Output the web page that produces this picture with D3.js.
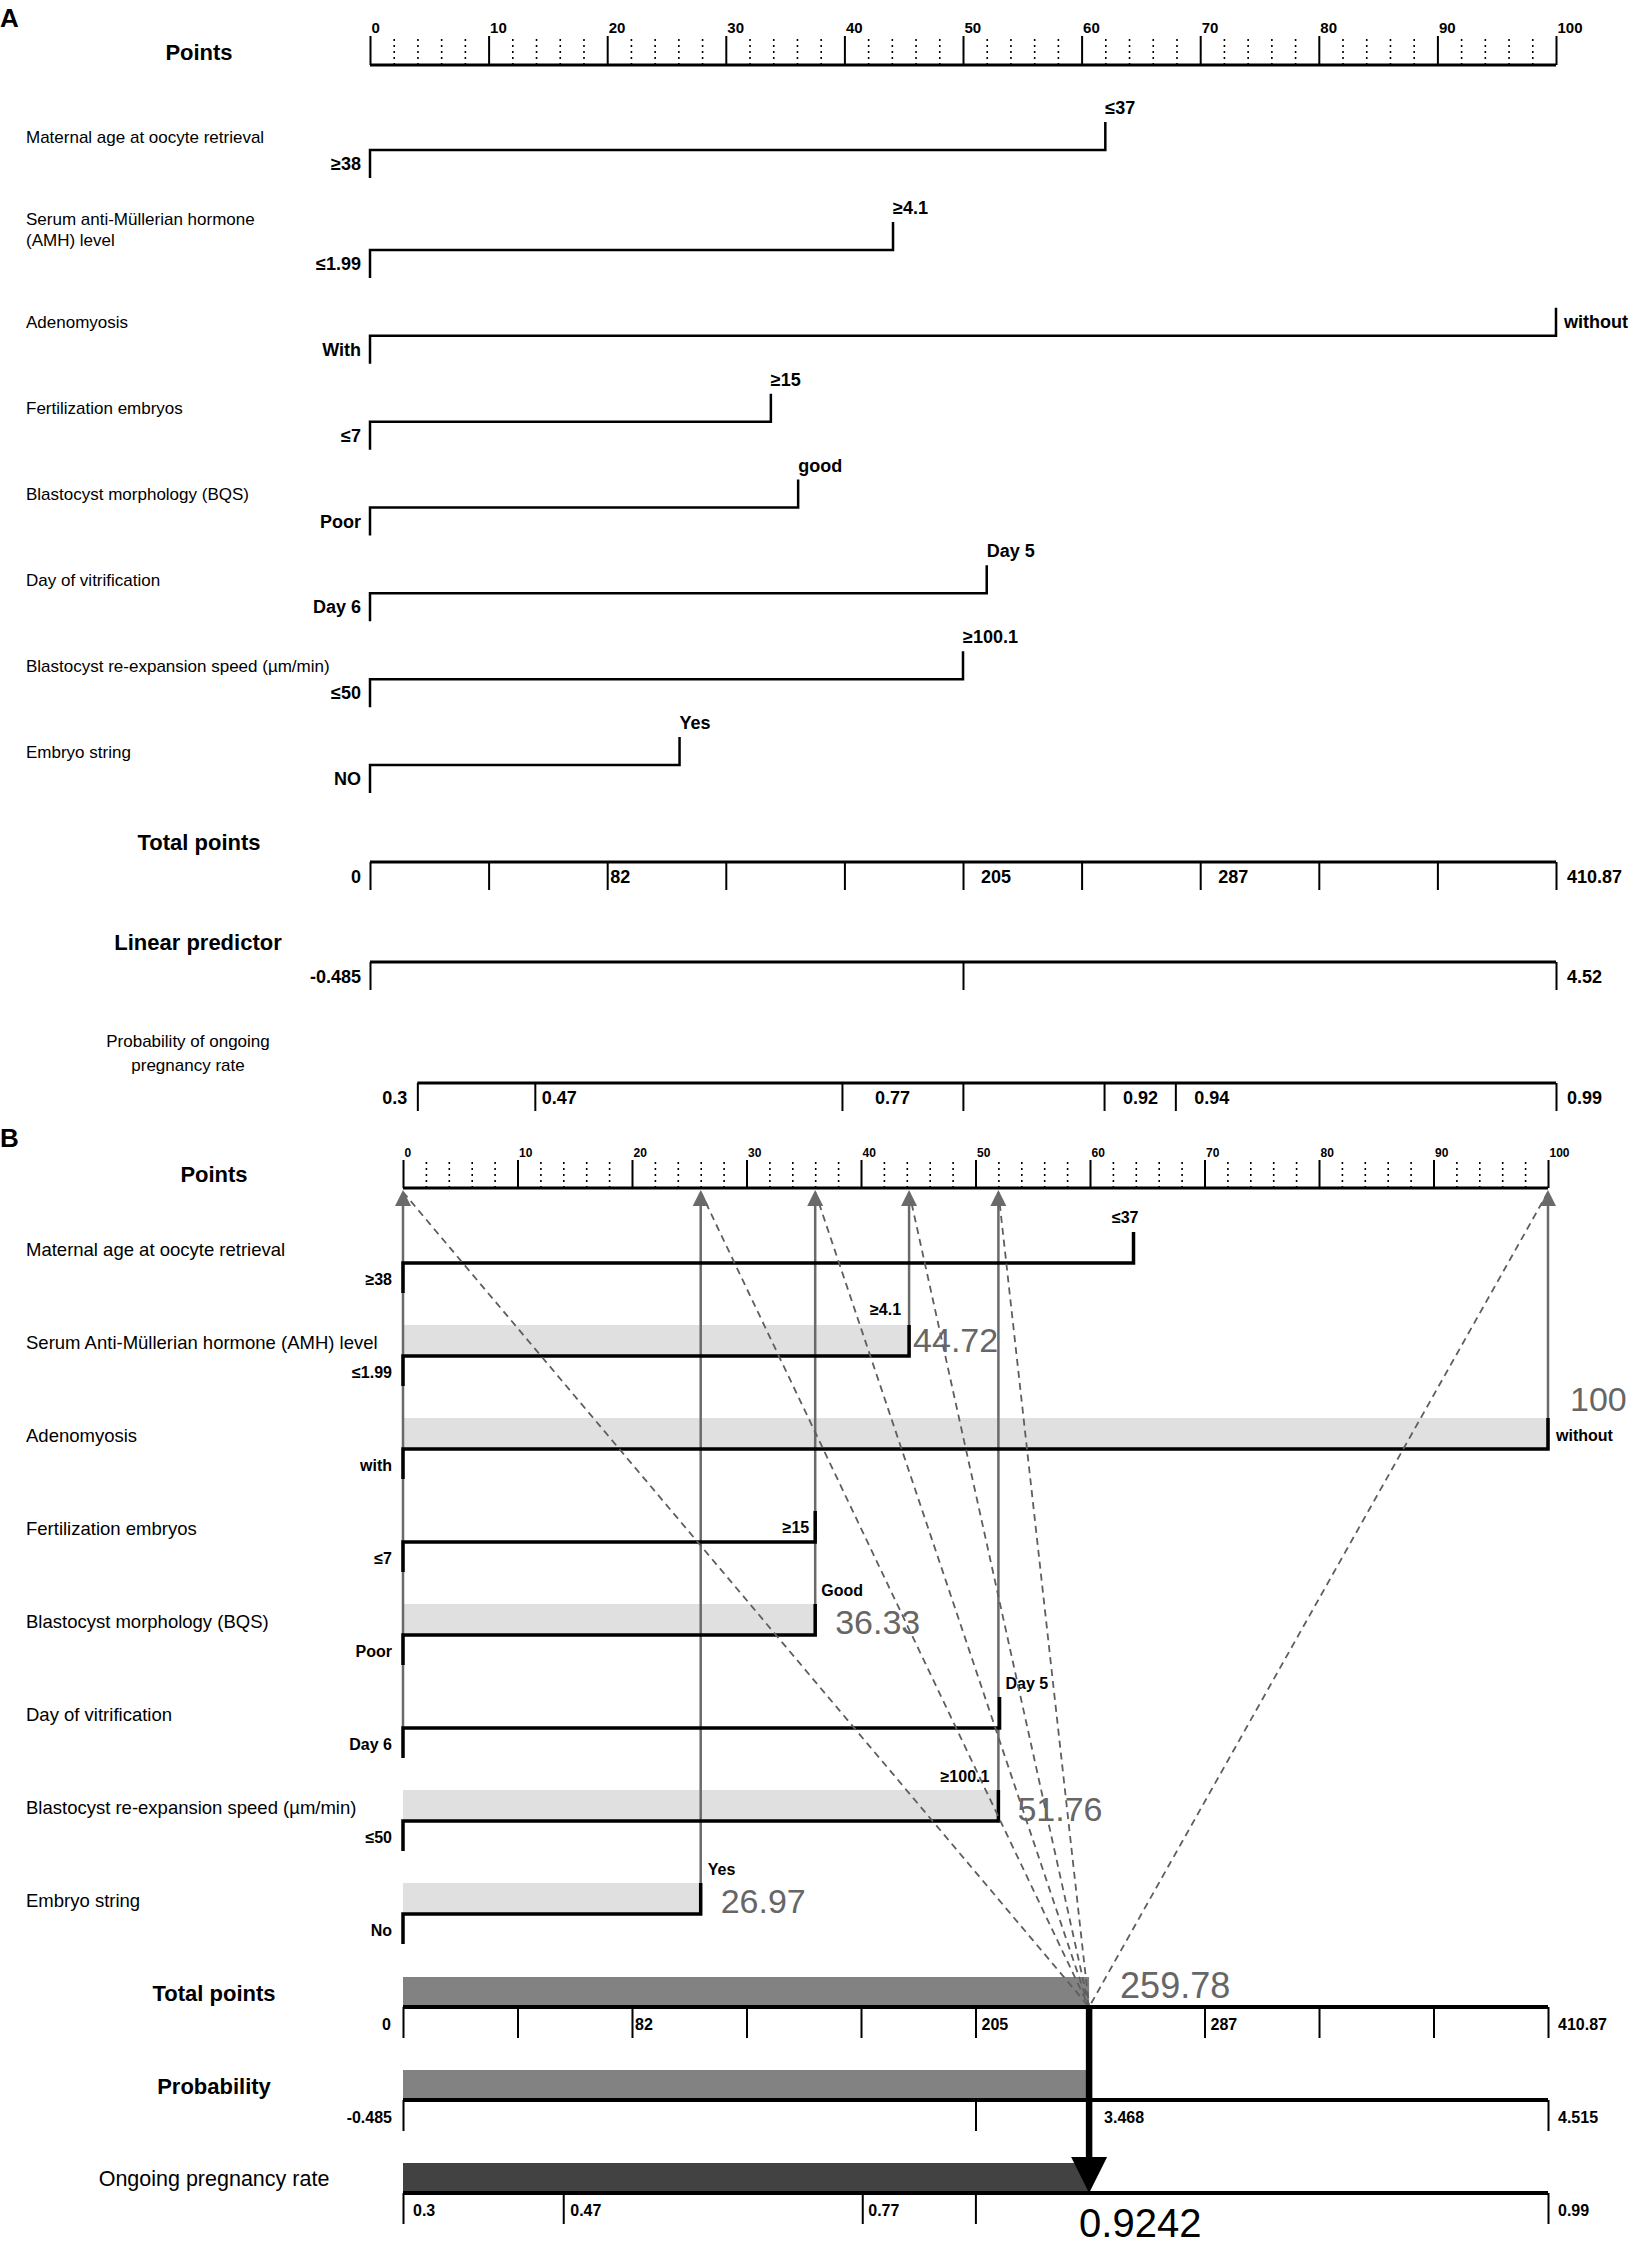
<!DOCTYPE html>
<html>
<head>
<meta charset="utf-8">
<script src="https://cdn.jsdelivr.net/npm/d3@7"></script>
<style>
  body { margin: 0; background: #fff; }
  svg { display: block; }
</style>
</head>
<body>
<div id="chart"></div>
<script>
/* global d3 */
const width = 1636;
const height = 2244;
const FONT = "'Liberation Sans', Arial, Helvetica, sans-serif";

// ---------------- data ----------------
const pointTicks = [0, 10, 20, 30, 40, 50, 60, 70, 80, 90, 100];

const predictorsA = [
  "Maternal age at oocyte retrieval",
  "Serum anti-Müllerian hormone\n(AMH) level",
  "Adenomyosis",
  "Fertilization embryos",
  "Blastocyst morphology (BQS)",
  "Day of vitrification",
  "Blastocyst re-expansion speed (µm/min)",
  "Embryo string"
];
const lowLevelsA = ["≥38", "≤1.99", "With", "≤7", "Poor", "Day 6", "≤50", "NO"];
const highLevelsA = ["≤37", "≥4.1", "without", "≥15", "good", "Day 5", "≥100.1", "Yes"];
const highPointsA = [62, 44.1, 100, 33.8, 36.1, 52, 50, 26.1];

const predictorsB = [
  "Maternal age at oocyte retrieval",
  "Serum Anti-Müllerian hormone (AMH) level",
  "Adenomyosis",
  "Fertilization embryos",
  "Blastocyst morphology (BQS)",
  "Day of vitrification",
  "Blastocyst re-expansion speed (µm/min)",
  "Embryo string"
];
const lowLevelsB = ["≥38", "≤1.99", "with", "≤7", "Poor", "Day 6", "≤50", "No"];
const highLevelsB = ["≤37", "≥4.1", "without", "≥15", "Good", "Day 5", "≥100.1", "Yes"];
const highPointsB = [63.8, 44.2, 100, 36, 36, 52.1, 52, 26];
// example patient: points scored on each predictor (0 = lowest level)
const scoredB = [0, 44.72, 100, 0, 36.33, 0, 51.76, 26.97];
const scoredLabelsB = ["", "44.72", "100", "", "36.33", "", "51.76", "26.97"];

const totalMax = 410.87;
const totalTicks = [0, 41.09, 82.17, 123.26, 164.35, 205.44, 246.52, 287.61, 328.7, 369.78, 410.87];
const totalTickLabels = ["0", "", "82", "", "", "205", "", "287", "", "", "410.87"];

const lpTicksA = [-0.485, 2.0175, 4.52];
const lpTickLabelsA = ["-0.485", "", "4.52"];
const lpTicksB = [-0.485, 2.015, 4.515];
const lpTickLabelsB = ["-0.485", "", "4.515"];

// probability ticks, located by their total-points equivalent
const probTicksA = [16.4, 57.1, 163.5, 205.4, 254.3, 279.0, 410.87];
const probTickLabelsA = ["0.3", "0.47", "0.77", "", "0.92", "0.94", "0.99"];
const probTicksB = [0, 57.5, 164.8, 205.4, 410.87];
const probTickLabelsB = ["0.3", "0.47", "0.77", "", "0.99"];

// example result in panel B
const resultTotal = "259.78";
const resultMarkAt = 246.2;   // where the marker sits on the total-points bar
const resultLp = "3.468";
const resultProb = "0.9242";

// ---------------- svg ----------------
const svg = d3.select("#chart").append("svg")
  .attr("width", width).attr("height", height)
  .attr("font-family", FONT);

function txt(g, x, y, s, size, opts = {}) {
  return g.append("text")
    .attr("x", x).attr("y", y)
    .attr("font-size", size)
    .attr("font-weight", opts.bold ? "bold" : "normal")
    .attr("text-anchor", opts.anchor || "start")
    .attr("dominant-baseline", opts.baseline || "central")
    .attr("fill", opts.fill || "#000")
    .text(s);
}

function drawPointsAxis(g, x, y, tickLen, fontSize) {
  const minors = d3.range(0, 101, 2).filter((v) => v % 10 !== 0);
  const minor = g.append("g").attr("transform", `translate(0,${y})`)
    .call(d3.axisTop(x).tickValues(minors).tickSize(tickLen).tickFormat(""));
  minor.select(".domain").remove();
  minor.selectAll(".tick line").attr("stroke", "#000").attr("stroke-width", 1.6)
    .attr("stroke-dasharray", "2,4");
  const major = g.append("g").attr("transform", `translate(0,${y})`)
    .call(d3.axisTop(x).tickValues(pointTicks).tickSize(tickLen).tickSizeOuter(0));
  major.select(".domain").remove();
  major.selectAll(".tick line").attr("stroke", "#000").attr("stroke-width", 2);
  major.selectAll(".tick text")
    .attr("text-anchor", "start").attr("dx", 1)
    .attr("font-family", FONT).attr("font-weight", "bold")
    .attr("font-size", fontSize).attr("fill", "#000");
  g.append("line").attr("x1", x(0)).attr("x2", x(100)).attr("y1", y).attr("y2", y)
    .attr("stroke", "#000").attr("stroke-width", 3);
}

// labels: dx > 0 -> text starts right of tick, dx < 0 -> text ends left of tick
function drawScaleBar(g, scale, values, labels, shifts, y, o) {
  const ax = g.append("g").attr("transform", `translate(0,${y})`)
    .call(d3.axisBottom(scale).tickValues(values).tickSize(o.tickLen).tickSizeOuter(0).tickFormat(""));
  ax.select(".domain").remove();
  ax.selectAll(".tick line").attr("stroke", "#000").attr("stroke-width", o.tickW);
  g.append("line")
    .attr("x1", scale(values[0])).attr("x2", scale(values[values.length - 1]))
    .attr("y1", y).attr("y2", y)
    .attr("stroke", "#000").attr("stroke-width", o.lineW);
  values.forEach((v, i) => {
    if (!labels[i]) return;
    const dx = shifts[i];
    txt(g, scale(v) + dx, y + o.labelDy, labels[i], o.fontSize,
      { bold: true, anchor: dx < 0 ? "end" : "start" });
  });
}

// ================= Panel A =================
const gA = svg.append("g");
const xA = d3.scaleLinear().domain([0, 100]).range([370, 1556]);
const tA = d3.scaleLinear().domain([0, totalMax]).range([370, 1556]);
const lpA = d3.scaleLinear().domain([lpTicksA[0], lpTicksA[2]]).range([370, 1556]);
const rowA = d3.scaleLinear().domain([0, 1, 7]).range([150, 250, 765]);

txt(gA, 0, 18, "A", 26, { bold: true });
txt(gA, 199, 52, "Points", 22, { bold: true, anchor: "middle" });
drawPointsAxis(gA, xA, 65, 29, 15);

const highPlaceA = ["top", "top", "side", "top", "top", "top", "top", "top"];
predictorsA.forEach((name, i) => {
  const y = rowA(i), x0 = xA(0), xh = xA(highPointsA[i]);
  gA.append("path")
    .attr("d", `M${x0},${y + 28}V${y}H${xh}V${y - 28}`)
    .attr("fill", "none").attr("stroke", "#000").attr("stroke-width", 2.5);
  const lines = name.split("\n");
  const base = lines.length > 1 ? y - 10 : y - 13;
  lines.forEach((ln, j) => txt(gA, 26, base - (lines.length - 1 - j) * 21, ln, 17));
  txt(gA, x0 - 9, y + 14, lowLevelsA[i], 18, { bold: true, anchor: "end" });
  if (highPlaceA[i] === "side") txt(gA, xh + 8, y - 14, highLevelsA[i], 18, { bold: true });
  else txt(gA, xh, y - 42, highLevelsA[i], 18, { bold: true });
});

txt(gA, 199, 842, "Total points", 22, { bold: true, anchor: "middle" });
drawScaleBar(gA, tA, totalTicks, totalTickLabels, [-9, 0, 3, 0, 0, 18, 0, 18, 0, 0, 11], 862,
  { tickLen: 28, tickW: 2, lineW: 3, labelDy: 15, fontSize: 18 });

txt(gA, 198, 942, "Linear predictor", 22, { bold: true, anchor: "middle" });
drawScaleBar(gA, lpA, lpTicksA, lpTickLabelsA, [-9, 0, 11], 962,
  { tickLen: 28, tickW: 2, lineW: 3, labelDy: 15, fontSize: 18 });

txt(gA, 188, 1041, "Probability of ongoing", 17, { anchor: "middle" });
txt(gA, 188, 1065, "pregnancy rate", 17, { anchor: "middle" });
drawScaleBar(gA, tA, probTicksA, probTickLabelsA, [-10, 7, 33, 0, 19, 19, 11], 1083,
  { tickLen: 28, tickW: 2, lineW: 3, labelDy: 15, fontSize: 18 });

// ================= Panel B =================
const gB = svg.append("g");
const xB = d3.scaleLinear().domain([0, 100]).range([403, 1548]);
const tB = d3.scaleLinear().domain([0, totalMax]).range([403, 1548]);
const lpB = d3.scaleLinear().domain([lpTicksB[0], lpTicksB[2]]).range([403, 1548]);
const rowB = d3.scaleLinear().domain([0, 7]).range([1263, 1914]);
const axisYB = 1188;
const barH = 31;
const markX = tB(resultMarkAt);
const totalY = 2007, lpY = 2100, probY = 2193;

txt(gB, 0, 1138, "B", 26, { bold: true });
txt(gB, 214, 1174, "Points", 22, { bold: true, anchor: "middle" });

// light bars for scored predictors
predictorsB.forEach((name, i) => {
  if (!scoredB[i]) return;
  const y = rowB(i);
  gB.append("rect")
    .attr("x", xB(0)).attr("y", y - barH)
    .attr("width", xB(highPointsB[i]) - xB(0)).attr("height", barH)
    .attr("fill", "#e0e0e0");
});

// result bars
gB.append("rect").attr("x", tB(0)).attr("y", totalY - 30).attr("width", markX - tB(0)).attr("height", 30).attr("fill", "#828282");
gB.append("rect").attr("x", tB(0)).attr("y", lpY - 30).attr("width", markX - tB(0)).attr("height", 30).attr("fill", "#828282");
gB.append("rect").attr("x", tB(0)).attr("y", probY - 30).attr("width", markX - tB(0)).attr("height", 30).attr("fill", "#424242");

// grey vertical lines from each selected level up to the points axis
const arrowSources = [{ x: xB(0), y: rowB(5) }];
predictorsB.forEach((name, i) => {
  if (scoredB[i]) arrowSources.push({ x: xB(highPointsB[i]), y: rowB(i) });
});
gB.selectAll(".vline").data(arrowSources).join("line")
  .attr("class", "vline")
  .attr("x1", (d) => d.x).attr("x2", (d) => d.x)
  .attr("y1", (d) => d.y).attr("y2", axisYB + 14)
  .attr("stroke", "#6a6a6a").attr("stroke-width", 2.5);

drawPointsAxis(gB, xB, axisYB, 28, 12);

const highShiftB = [
  { dx: 5, anchor: "end", dy: -46 },
  { dx: -8, anchor: "end", dy: -47 },
  { dx: 8, anchor: "start", dy: -14 },
  { dx: -6, anchor: "end", dy: -15 },
  { dx: 6, anchor: "start", dy: -45 },
  { dx: 6, anchor: "start", dy: -45 },
  { dx: -9, anchor: "end", dy: -45 },
  { dx: 7, anchor: "start", dy: -45 }
];
const scoreShiftB = [null, { dx: 4, dy: -4 }, { dx: 22, dy: -38 }, null, { dx: 20, dy: -1 }, null, { dx: 19, dy: 0 }, { dx: 20, dy: -1 }];

predictorsB.forEach((name, i) => {
  const y = rowB(i), x0 = xB(0), xh = xB(highPointsB[i]);
  gB.append("path")
    .attr("d", `M${x0},${y + 30}V${y}H${xh}V${y - barH}`)
    .attr("fill", "none").attr("stroke", "#000").attr("stroke-width", 3.5);
  txt(gB, 26, y - 14, name, 18.5);
  txt(gB, x0 - 11, y + 16, lowLevelsB[i], 16, { bold: true, anchor: "end" });
  const h = highShiftB[i];
  txt(gB, xh + h.dx, y + h.dy, highLevelsB[i], 16, { bold: true, anchor: h.anchor });
});

// dashed guide lines from axis to total points
gB.selectAll(".guide").data(arrowSources).join("line")
  .attr("class", "guide")
  .attr("x1", (d) => d.x).attr("y1", axisYB + 4)
  .attr("x2", markX).attr("y2", totalY)
  .attr("stroke", "#5e5e5e").attr("stroke-width", 1.8)
  .attr("stroke-dasharray", "7,5");

// arrow heads
gB.selectAll(".head").data(arrowSources).join("path")
  .attr("class", "head")
  .attr("d", (d) => `M${d.x},${axisYB + 2}L${d.x - 8},${axisYB + 18}L${d.x + 8},${axisYB + 18}Z`)
  .attr("fill", "#6a6a6a");

// score labels
predictorsB.forEach((name, i) => {
  if (!scoredB[i]) return;
  const s = scoreShiftB[i];
  txt(gB, xB(highPointsB[i]) + s.dx, rowB(i) + s.dy, scoredLabelsB[i], 34,
    { fill: "#666", baseline: "alphabetic" });
});

txt(gB, 214, 1993, "Total points", 22, { bold: true, anchor: "middle" });
drawScaleBar(gB, tB, totalTicks, totalTickLabels, [-12, 0, 3, 0, 0, 6, 0, 6, 0, 0, 10], totalY,
  { tickLen: 31, tickW: 2, lineW: 4, labelDy: 17, fontSize: 16 });

txt(gB, 214, 2086, "Probability", 22, { bold: true, anchor: "middle" });
drawScaleBar(gB, lpB, lpTicksB, lpTickLabelsB, [-11, 0, 10], lpY,
  { tickLen: 31, tickW: 2, lineW: 4, labelDy: 17, fontSize: 16 });

txt(gB, 214, 2179, "Ongoing pregnancy rate", 21.5, { anchor: "middle" });
drawScaleBar(gB, tB, probTicksB, probTickLabelsB, [10, 7, 6, 0, 10], probY,
  { tickLen: 31, tickW: 2, lineW: 4, labelDy: 17, fontSize: 16 });

// result marker
txt(gB, markX + 31, totalY - 9, resultTotal, 36, { fill: "#666", baseline: "alphabetic" });
gB.append("line").attr("x1", markX).attr("x2", markX).attr("y1", totalY).attr("y2", probY - 34)
  .attr("stroke", "#000").attr("stroke-width", 6.5);
gB.append("path")
  .attr("d", `M${markX - 18},${probY - 36}L${markX + 18},${probY - 36}L${markX},${probY}Z`)
  .attr("fill", "#000");
txt(gB, markX + 15, lpY + 17, resultLp, 16, { bold: true });
txt(gB, markX - 10, probY + 44, resultProb, 40, { baseline: "alphabetic" });
</script>
</body>
</html>
